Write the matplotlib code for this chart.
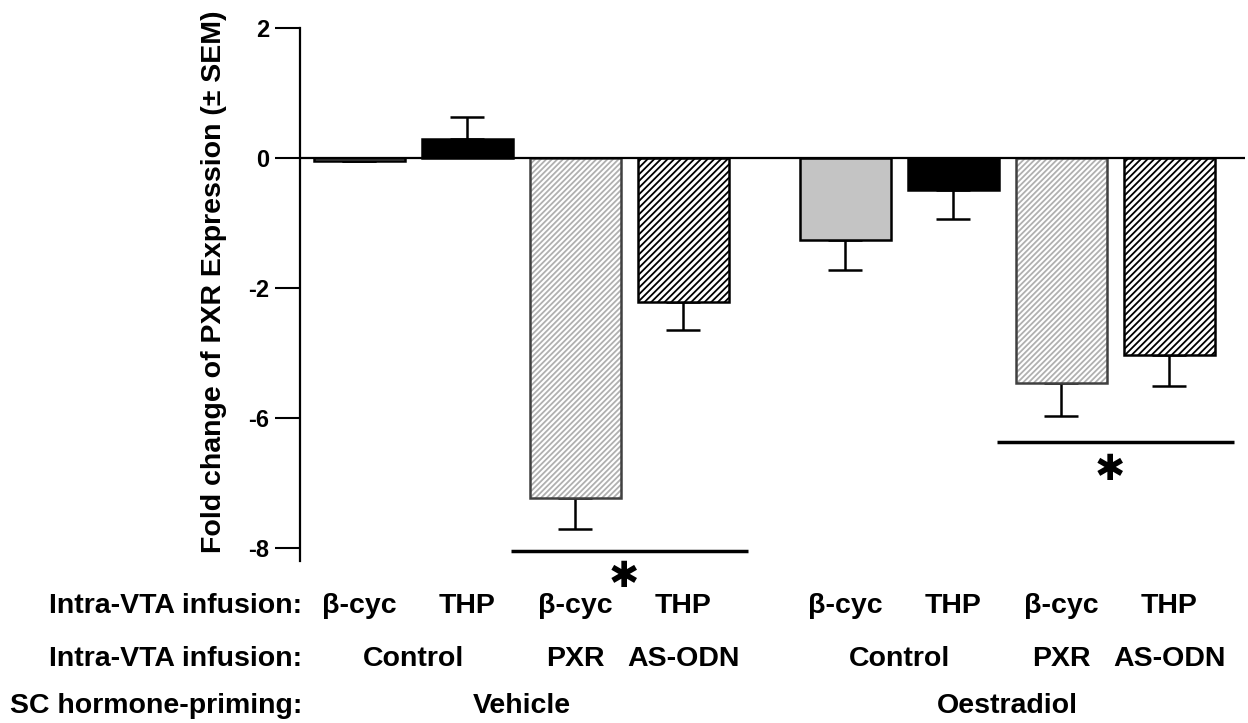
import matplotlib

matplotlib.use("Agg")

import matplotlib.pyplot as plt
from matplotlib.transforms import blended_transform_factory

plt.rcParams["font.family"] = ["Liberation Sans", "DejaVu Sans"]
plt.rcParams["hatch.linewidth"] = 1.3

# data (axis units: one tick step = 2)
infusion = ["β-cyc", "THP", "β-cyc", "THP", "β-cyc", "THP", "β-cyc", "THP"]
treatment = ["Control", "PXR", "AS-ODN", "Control", "PXR", "AS-ODN"]
priming = ["Vehicle", "Oestradiol"]
values = [-0.05, 0.30, -5.23, -2.22, -1.26, -0.49, -3.46, -3.03]
sem = [0.0, 0.33, 0.48, 0.43, 0.46, 0.45, 0.51, 0.48]
ytick_labels = ["2", "0", "-2", "-6", "-8"]

x = [0, 1, 2, 3, 4.5, 5.5, 6.5, 7.5]
styles = ["gray", "black", "light", "dark"] * 2

fig = plt.figure(figsize=(12.48, 7.23), dpi=100)
ax = fig.add_axes([300 / 1248, (723 - 561) / 723, 945 / 1248, 533 / 723])

w = 0.84
for xi, v, s in zip(x, values, styles):
    if s == "gray":
        ax.bar(xi, v, w, color="#c4c4c4", edgecolor="black", linewidth=1.8, zorder=2)
    elif s == "black":
        ax.bar(xi, v, w, color="black", edgecolor="black", linewidth=1.8, zorder=2)
    elif s == "light":
        ax.bar(xi, v, w, color="white", edgecolor="#b0b0b0", hatch="//////",
               linewidth=0, zorder=2)
        ax.bar(xi, v, w, fill=False, edgecolor="#404040", linewidth=1.8, zorder=3)
    else:
        ax.bar(xi, v, w, color="white", edgecolor="black", hatch="/////",
               linewidth=1.8, zorder=2)

lower = [e if v < 0 else 0 for v, e in zip(values, sem)]
upper = [e if v > 0 else 0 for v, e in zip(values, sem)]
ax.errorbar(x, values, yerr=[lower, upper], fmt="none", ecolor="black",
            elinewidth=1.8, capsize=12, capthick=1.8, zorder=1)

ax.axhline(0, color="black", linewidth=1.6, zorder=4)

ax.set_xlim(-0.55, 8.2)
ax.set_ylim(-6.2, 2)
ax.set_yticks([2, 0, -2, -4, -6])
ax.set_yticklabels(ytick_labels, fontsize=17, fontweight="bold")
ax.tick_params(axis="y", length=18, width=1.5, pad=4)
ax.set_xticks([])
for side in ["top", "right", "bottom"]:
    ax.spines[side].set_visible(False)
ax.spines["left"].set_linewidth(1.6)

# significance bars
for a, b, y, ys in [(x[2], x[3], -6.05, -6.45), (x[6], x[7], -4.37, -4.8)]:
    ax.plot([a - 0.6, b + 0.6], [y, y], color="black", linewidth=2.5,
            clip_on=False, solid_capstyle="butt")
    ax.text((a + b) / 2 - 0.05, ys, "✱", ha="center", va="center",
            fontsize=26, family="DejaVu Sans", clip_on=False)

fig.text(214 / 1248, 1 - 282 / 723, "Fold change of PXR Expression (± SEM)",
         rotation=90, ha="center", va="center", fontsize=20.5, fontweight="bold")

tr = blended_transform_factory(ax.transData, fig.transFigure)
rows_y = [1 - 606 / 723, 1 - 659 / 723, 1 - 706 / 723]
row_names = ["Intra-VTA infusion:", "Intra-VTA infusion:", "SC hormone-priming:"]
for ry, name in zip(rows_y, row_names):
    fig.text(302 / 1248, ry, name, ha="right", va="center", fontsize=20.5,
             fontweight="bold")

for xi, lab in zip(x, infusion):
    ax.text(xi, rows_y[0], lab, transform=tr, ha="center", va="center",
            fontsize=20.5, fontweight="bold")

treat_x = [(x[0] + x[1]) / 2, x[2], x[3], (x[4] + x[5]) / 2, x[6], x[7]]
for xi, lab in zip(treat_x, treatment):
    ax.text(xi, rows_y[1], lab, transform=tr, ha="center", va="center",
            fontsize=20.5, fontweight="bold")

prime_x = [(x[0] + x[3]) / 2, (x[4] + x[7]) / 2]
for xi, lab in zip(prime_x, priming):
    ax.text(xi, rows_y[2], lab, transform=tr, ha="center", va="center",
            fontsize=20.5, fontweight="bold")

fig.savefig("out.png", dpi=100)
